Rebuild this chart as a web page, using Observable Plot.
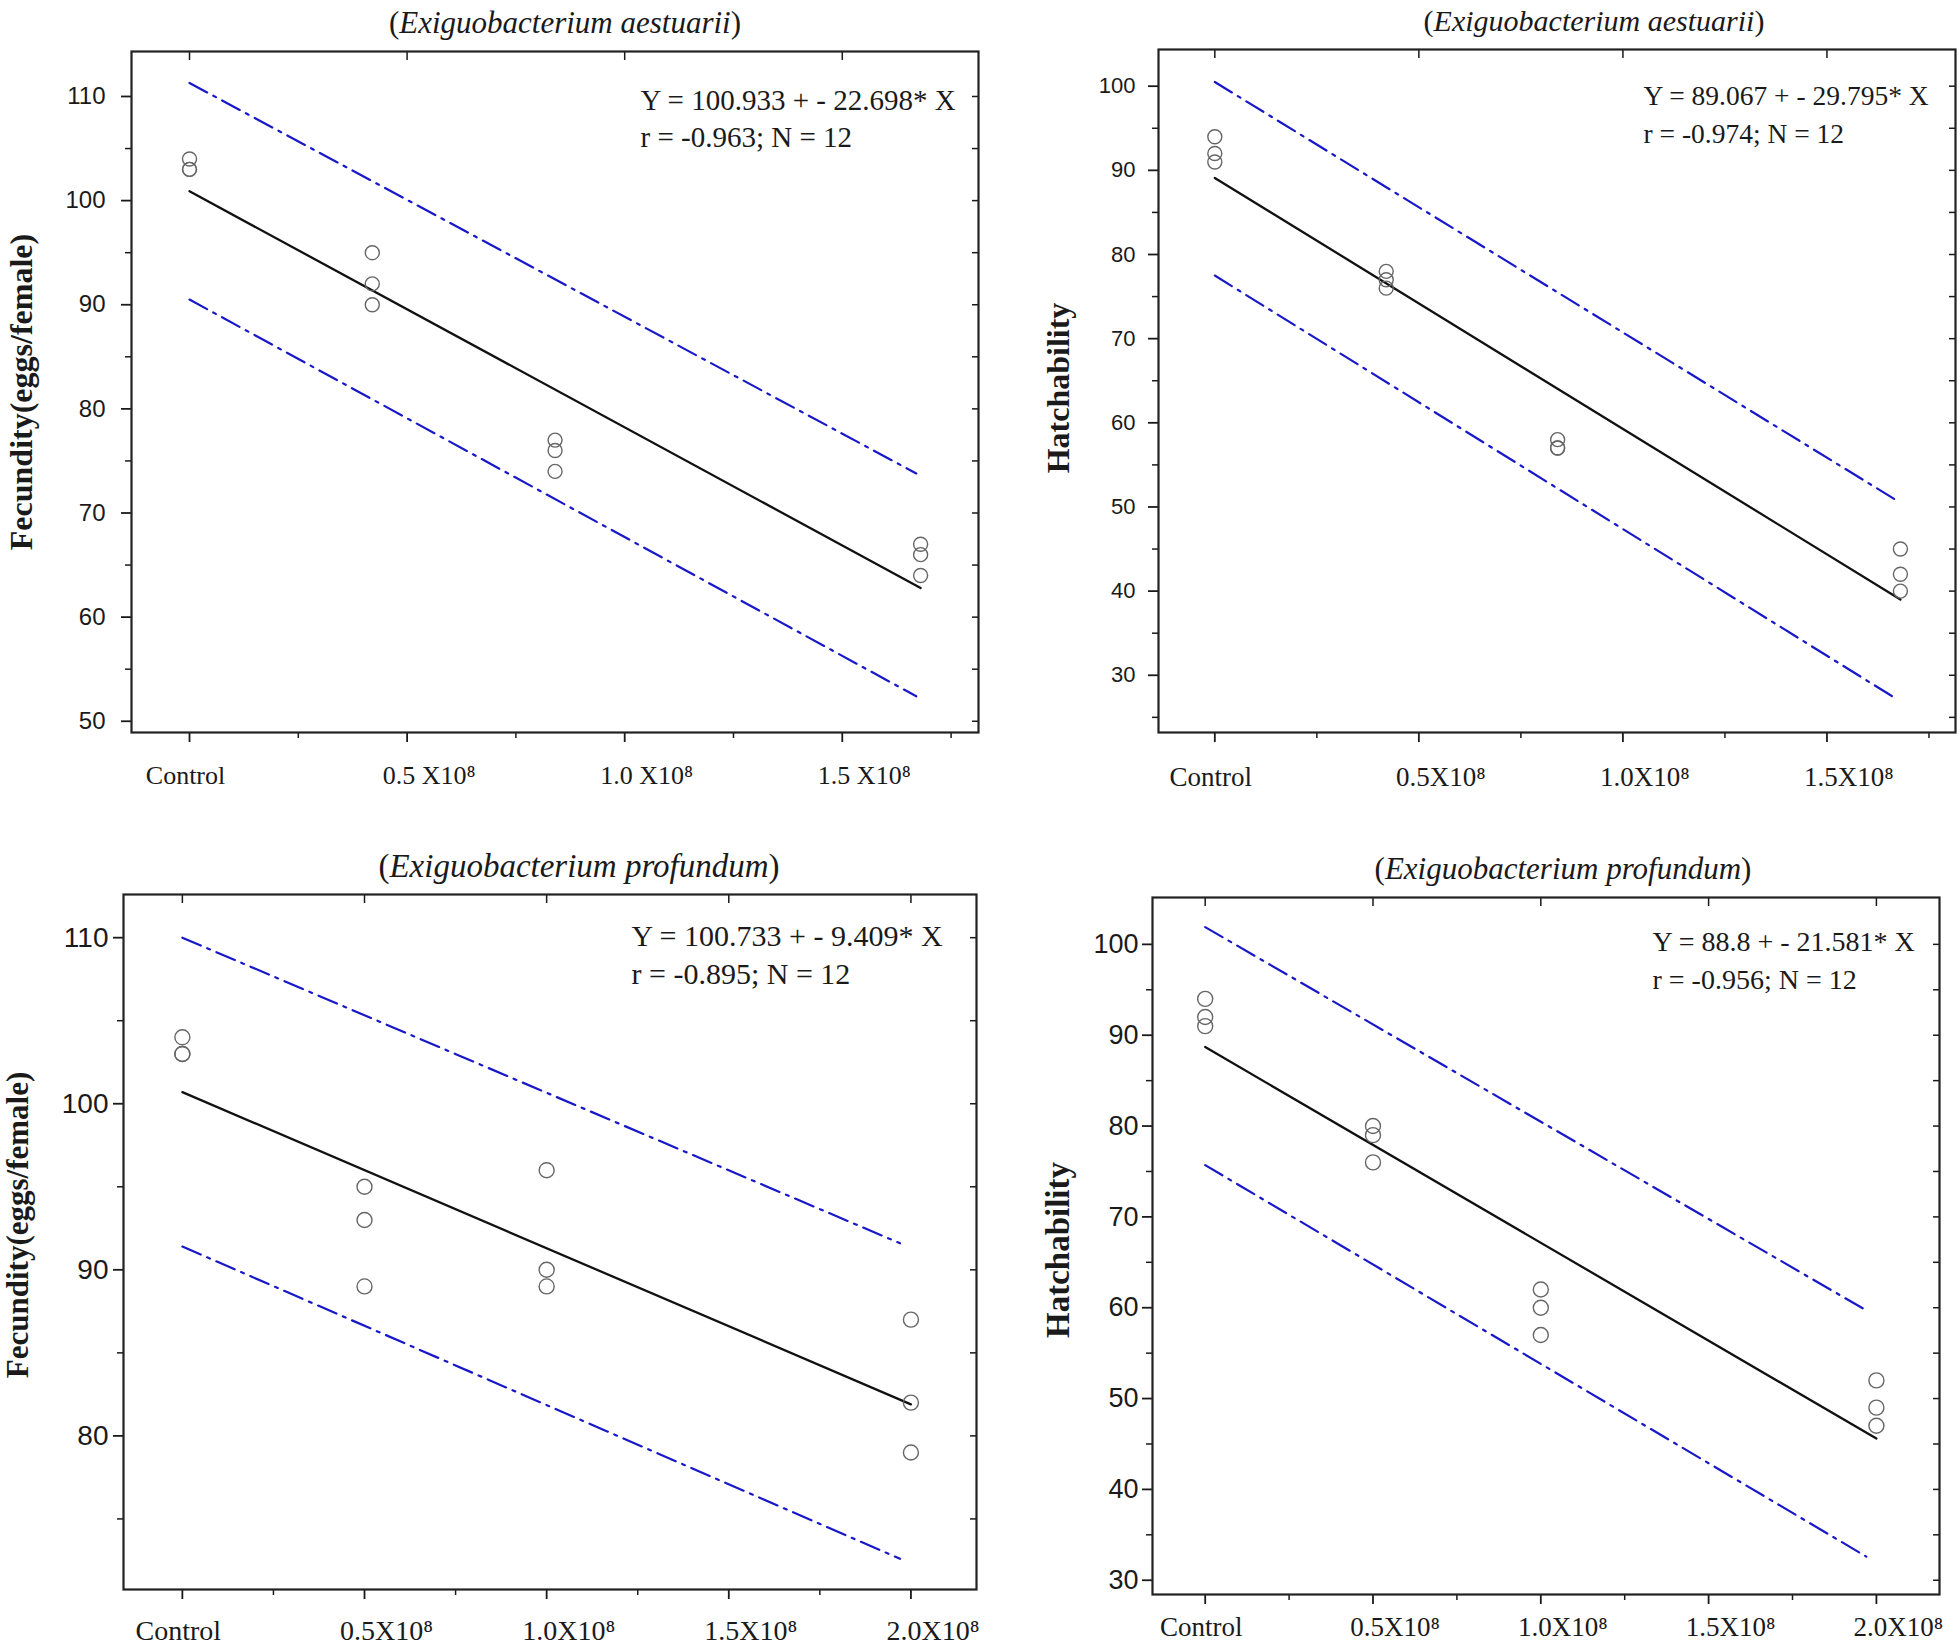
<!DOCTYPE html>
<html><head><meta charset="utf-8">
<script src="https://cdn.jsdelivr.net/npm/d3@7"></script>
<script src="https://cdn.jsdelivr.net/npm/@observablehq/plot@0.6"></script>
<style>
body{margin:0;background:#fff;}
#root{position:relative;width:1960px;height:1649px;overflow:hidden;background:#fff;}
.panel{position:absolute;}
.ttl{position:absolute;font-family:"Liberation Serif","Times New Roman",serif;text-align:center;white-space:nowrap;color:#1a1a1a;line-height:1.2;}
</style></head><body><div id="root"></div>
<script>
// ---------------- data ----------------
const species = ["Exiguobacterium aestuarii", "Exiguobacterium aestuarii", "Exiguobacterium profundum", "Exiguobacterium profundum"];
const yTitles = ["Fecundity(eggs/female)", "Hatchability", "Fecundity(eggs/female)", "Hatchability"];
const eqLine1 = ["Y = 100.933 + - 22.698* X", "Y = 89.067 + - 29.795* X", "Y = 100.733 + - 9.409* X", "Y = 88.8 + - 21.581* X"];
const eqLine2 = ["r = -0.963; N = 12", "r = -0.974; N = 12", "r = -0.895; N = 12", "r = -0.956; N = 12"];

// doses (x 10^8)
const doseAes = [0, 0, 0, 0.42, 0.42, 0.42, 0.84, 0.84, 0.84, 1.68, 1.68, 1.68];
const dosePro = [0, 0, 0, 0.5, 0.5, 0.5, 1, 1, 1, 2, 2, 2];

// observations
const fecundityAes = [104, 103, 103, 95, 92, 90, 77, 76, 74, 67, 66, 64];
const hatchAes = [94, 92, 91, 78, 77, 76, 58, 57, 57, 45, 42, 40];
const fecundityPro = [104, 103, 103, 95, 93, 89, 96, 90, 89, 87, 82, 79];
const hatchPro = [94, 92, 91, 80, 79, 76, 62, 60, 57, 52, 49, 47];

// regression line and band end points
const fitXAes = [0, 1.68];
const fitXPro = [0, 2];
const bandXAes = [0, 1.67];
const bandXPro = [0, 1.97];
const fitFecAes = [100.9, 62.8], upperFecAes = [111.3, 73.8], lowerFecAes = [90.5, 52.4];
const fitHatAes = [89.1, 39.0], upperHatAes = [100.5, 50.8], lowerHatAes = [77.5, 27.2];
const fitFecPro = [100.7, 81.9], upperFecPro = [110.0, 91.6], lowerFecPro = [91.4, 72.6];
const fitHatPro = [88.7, 45.6], upperHatPro = [101.9, 59.7], lowerHatPro = [75.7, 32.6];

// tick values and labels
const xMajorAes = [0, 0.5, 1, 1.5];
const xMajorPro = [0, 0.5, 1, 1.5, 2];
const xMinor = [0.25, 0.75, 1.25, 1.75];
const xLabels1 = ["Control", "0.5 X10⁸", "1.0 X10⁸", "1.5 X10⁸"];
const xLabels2 = ["Control", "0.5X10⁸", "1.0X10⁸", "1.5X10⁸"];
const xLabels34 = ["Control", "0.5X10⁸", "1.0X10⁸", "1.5X10⁸", "2.0X10⁸"];
const yMajorFecAes = [50, 60, 70, 80, 90, 100, 110];
const yMinorFecAes = [55, 65, 75, 85, 95, 105];
const yMajorHat = [30, 40, 50, 60, 70, 80, 90, 100];
const yMinorHatAes = [25, 35, 45, 55, 65, 75, 85, 95];
const yMinorHatPro = [35, 45, 55, 65, 75, 85, 95];
const yMajorFecPro = [80, 90, 100, 110];
const yMinorFecPro = [75, 85, 95, 105];

// ---------------- layout (positions / styles) ----------------
const SERIF = "Liberation Serif, Times New Roman, serif";
const SANS = "Liberation Sans, Arial, sans-serif";
const layouts = [
  {left: 0, top: 0, w: 990, h: 800, mL: 131, mR: 12, mT: 51, mB: 68, xd: [-0.1333, 1.813], yd: [48.92, 114.32],
   yfs: 24, ytp: 16, xfs: 26, xtp: 33, eqfs: 29, eqR: 338, eqDy: 32, eqLH: 1.28, tcx: 565, tcy: 23, tfs: 31, ytDx: -110, ytDy: 0, ytfs: 32, r: 7},
  {left: 1000, top: 0, w: 960, h: 800, mL: 158, mR: 5, mT: 49, mB: 68, xd: [-0.138, 1.815], yd: [23.2, 104.36],
   yfs: 22, ytp: 13, xfs: 27, xtp: 34, eqfs: 27.5, eqR: 312, eqDy: 28.5, eqLH: 1.38, tcx: 1594, tcy: 21, tfs: 30, ytDx: -100, ytDy: -3, ytfs: 32, r: 7},
  {left: 0, top: 830, w: 990, h: 819, mL: 123, mR: 14, mT: 64, mB: 60, xd: [-0.1616, 2.18], yd: [70.75, 112.6],
   yfs: 28, ytp: 5, xfs: 28, xtp: 31, eqfs: 30, eqR: 345, eqDy: 25, eqLH: 1.25, tcx: 579, tcy: 867, tfs: 33, ytDx: -105, ytDy: -17, ytfs: 31, r: 7.5},
  {left: 1000, top: 830, w: 960, h: 819, mL: 152, mR: 21, mT: 67, mB: 55, xd: [-0.157, 2.188], yd: [28.43, 105.16],
   yfs: 27, ytp: 4, xfs: 27, xtp: 22, eqfs: 28, eqR: 287, eqDy: 27, eqLH: 1.34, tcx: 1563, tcy: 869, tfs: 31, ytDx: -94, ytDy: 4, ytfs: 33, r: 7.5}
];

const panels = [
  {x: doseAes, y: fecundityAes, fitX: fitXAes, fit: fitFecAes, bandX: bandXAes, up: upperFecAes, lo: lowerFecAes,
   xMajor: xMajorAes, xLabels: xLabels1, yMajor: yMajorFecAes, yMinor: yMinorFecAes},
  {x: doseAes, y: hatchAes, fitX: fitXAes, fit: fitHatAes, bandX: bandXAes, up: upperHatAes, lo: lowerHatAes,
   xMajor: xMajorAes, xLabels: xLabels2, yMajor: yMajorHat, yMinor: yMinorHatAes},
  {x: dosePro, y: fecundityPro, fitX: fitXPro, fit: fitFecPro, bandX: bandXPro, up: upperFecPro, lo: lowerFecPro,
   xMajor: xMajorPro, xLabels: xLabels34, yMajor: yMajorFecPro, yMinor: yMinorFecPro},
  {x: dosePro, y: hatchPro, fitX: fitXPro, fit: fitHatPro, bandX: bandXPro, up: upperHatPro, lo: lowerHatPro,
   xMajor: xMajorPro, xLabels: xLabels34, yMajor: yMajorHat, yMinor: yMinorHatPro}
];

const INK = "#1a1a1a";
const BLUE = "#1818c8";

function build(p, L, i) {
  const pts = p.x.map((x, j) => ({x, y: p.y[j]}));
  const fit = p.fitX.map((x, j) => ({x, y: p.fit[j]}));
  const up = p.bandX.map((x, j) => ({x, y: p.up[j]}));
  const lo = p.bandX.map((x, j) => ({x, y: p.lo[j]}));
  const lab = new Map(p.xMajor.map((v, j) => [v, p.xLabels[j]]));
  const blank = () => "";
  return Plot.plot({
    width: L.w, height: L.h,
    marginLeft: L.mL, marginRight: L.mR, marginTop: L.mT, marginBottom: L.mB,
    style: {background: "transparent", overflow: "visible"},
    x: {domain: L.xd, axis: null, label: null},
    y: {domain: L.yd, axis: null, label: null},
    marks: [
      // y axis (left): major with labels, minor ticks
      Plot.axisY(p.yMajor, {anchor: "left", tickSize: 10, tickPadding: L.ytp, fontSize: L.yfs, fontFamily: SANS, color: INK, strokeWidth: 1.8, label: null}),
      Plot.axisY(p.yMinor, {anchor: "left", tickSize: 6, tickFormat: blank, color: INK, strokeWidth: 1.5, label: null}),
      // right side inner ticks
      Plot.axisY(p.yMajor.concat(p.yMinor), {anchor: "right", tickSize: -7, tickFormat: blank, color: INK, strokeWidth: 1.5, label: null}),
      // x axis ticks
      Plot.axisX(p.xMajor, {anchor: "bottom", tickSize: 10, tickFormat: blank, color: INK, strokeWidth: 1.8, label: null}),
      Plot.axisX(xMinor, {anchor: "bottom", tickSize: 6, tickFormat: blank, color: INK, strokeWidth: 1.5, label: null}),
      Plot.axisX(p.xMajor, {anchor: "top", tickSize: -8, tickFormat: blank, color: INK, strokeWidth: 1.5, label: null}),
      // x tick labels
      Plot.axisX(p.xMajor.slice(0, 1), {anchor: "bottom", tickSize: 0, tickPadding: L.xtp, tickFormat: d => lab.get(d), fontSize: L.xfs, fontFamily: SERIF, color: INK, dx: -4, label: null}),
      Plot.axisX(p.xMajor.slice(1), {anchor: "bottom", tickSize: 0, tickPadding: L.xtp, tickFormat: d => lab.get(d), fontSize: L.xfs, fontFamily: SERIF, color: INK, dx: 22, label: null}),
      // confidence bands
      Plot.line(up, {x: "x", y: "y", stroke: BLUE, strokeWidth: 2.2, strokeDasharray: "20,7,3,7"}),
      Plot.line(lo, {x: "x", y: "y", stroke: BLUE, strokeWidth: 2.2, strokeDasharray: "20,7,3,7"}),
      // regression
      Plot.line(fit, {x: "x", y: "y", stroke: "#111", strokeWidth: 2.3}),
      // points
      Plot.dot(pts, {x: "x", y: "y", r: L.r, fill: "none", stroke: "#666", strokeWidth: 1.4}),
      // equation text
      Plot.text([eqLine1[i] + "\n" + eqLine2[i]], {text: d => d, frameAnchor: "top-right", textAnchor: "start", lineAnchor: "top",
        dx: -L.eqR, dy: L.eqDy, fontSize: L.eqfs, fontFamily: SERIF, lineHeight: L.eqLH, fill: INK}),
      // y title
      Plot.text([yTitles[i]], {text: d => d, frameAnchor: "left", textAnchor: "middle", lineAnchor: "middle", rotate: -90, dx: L.ytDx, dy: L.ytDy,
        fontSize: L.ytfs, fontFamily: SERIF, fontWeight: "bold", fill: INK}),
      Plot.frame({stroke: "#222", strokeWidth: 2.2})
    ]
  });
}

const root = document.getElementById("root");
panels.forEach((p, i) => {
  const L = layouts[i];
  const wrap = document.createElement("div");
  wrap.className = "panel";
  wrap.style.left = L.left + "px";
  wrap.style.top = L.top + "px";
  wrap.appendChild(build(p, L, i));
  root.appendChild(wrap);
  const t = document.createElement("div");
  t.className = "ttl";
  t.style.fontSize = L.tfs + "px";
  t.style.width = "800px";
  t.style.left = (L.tcx - 400) + "px";
  t.style.top = (L.tcy - L.tfs * 0.6) + "px";
  t.append("(");
  const it = document.createElement("i");
  it.textContent = species[i];
  t.appendChild(it);
  t.append(")");
  root.appendChild(t);
});
</script>
</body></html>
